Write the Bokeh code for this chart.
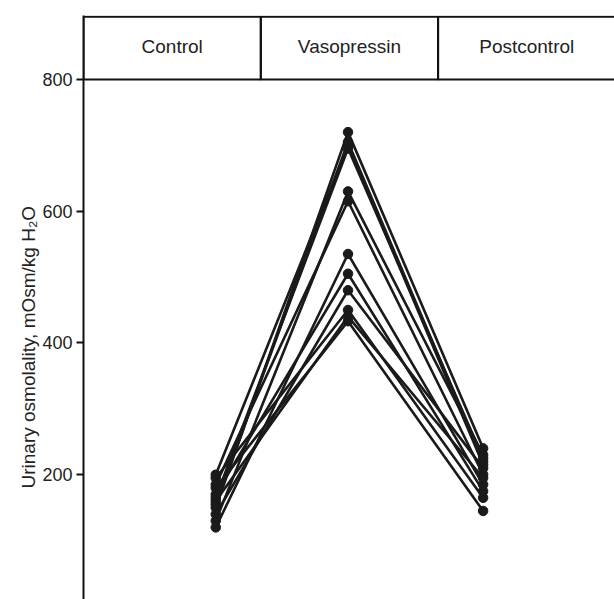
from bokeh.plotting import figure
from bokeh.models import Range1d, Title, FixedTicker
from bokeh.core.properties import value
from bokeh.embed import file_html
from bokeh.resources import INLINE

# ---- data ----
phases = ["Control", "Vasopressin", "Postcontrol"]
control = [150, 200, 165, 130, 185, 120, 170, 140, 195, 160, 180, 155]
vasopressin = [720, 700, 695, 630, 615, 535, 505, 480, 450, 440, 433, 705]
postcontrol = [240, 215, 225, 230, 200, 185, 175, 210, 165, 195, 145, 220]
y_ticks = [200, 400, 600, 800]
y_label = "Urinary osmolality, mOsm/kg H\u2082O"

# layout positions (header boxes are one unit wide each)
phase_x = [0.746, 1.492, 2.254]
box_left = [0, 1, 2]
header_bottom, header_top = 800, 895

FONT = "Liberation Sans"

p = figure(width=614, height=599, output_backend="svg", toolbar_location=None,
           x_range=Range1d(0, 2.995), y_range=Range1d(10.6, 897),
           min_border_left=83, min_border_right=0, min_border_top=15,
           min_border_bottom=0, x_axis_location=None)
p.outline_line_color = None
p.grid.visible = False
p.background_fill_color = "white"
p.border_fill_color = "white"

# header boxes
p.quad(left=box_left, right=[b + 1 for b in box_left],
       bottom=[header_bottom] * 3, top=[header_top] * 3,
       fill_color=None, line_color="#111111", line_width=2)
p.text(x=[b + 0.5 for b in box_left], y=[(header_bottom + header_top) / 2 + 2] * 3,
       text=phases, text_align="center", text_baseline="middle",
       text_font=value(FONT), text_font_size="19px", text_color="#222222")

# subject lines
xs = [phase_x for _ in control]
ys = [[c, v, q] for c, v, q in zip(control, vasopressin, postcontrol)]
p.multi_line(xs=xs, ys=ys, line_color="#1a1a1a", line_width=2.6)
for i, vals in enumerate([control, vasopressin, postcontrol]):
    p.scatter(x=[phase_x[i]] * len(vals), y=vals, size=9.5,
              fill_color="#1a1a1a", line_color="#1a1a1a")

# y axis
ax = p.yaxis[0]
ax.ticker = FixedTicker(ticks=y_ticks)
ax.axis_line_width = 2
ax.axis_line_color = "#111111"
ax.major_tick_line_width = 2
ax.major_tick_line_color = "#111111"
ax.major_tick_in = 0
ax.major_tick_out = 7
ax.minor_tick_line_color = None
ax.major_label_standoff = 4
ax.major_label_text_font = FONT
ax.major_label_text_font_size = "18px"
ax.major_label_text_color = "#222222"

# y axis label as a left-side title (lets us place it along the axis)
p.add_layout(Title(text=y_label, align="left", offset=111, standoff=2,
                   text_font=FONT, text_font_size="19px",
                   text_font_style="normal", text_color="#222222"), "left")

open("out.html", "w").write(file_html(p, INLINE))
